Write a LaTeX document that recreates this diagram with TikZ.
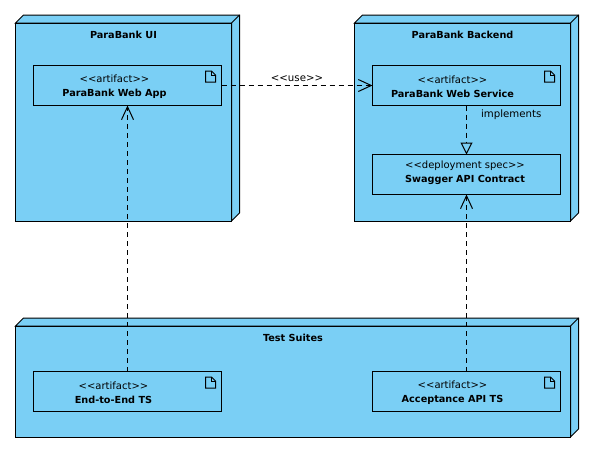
\documentclass[tikz,border=0pt]{standalone}
\usepackage{fontspec}
\setmainfont{DejaVu Sans}
\usetikzlibrary{arrows.meta}
\usetikzlibrary{positioning}
\definecolor{nodeblue}{RGB}{122,207,245}
\newcommand{\stereo}[1]{<{}<#1>{}>}
\newcommand{\boxname}[1]{{\fontsize{9.7}{14}\selectfont\bfseries #1}}
\tikzset{
  cube/.style={draw=black,fill=nodeblue,line width=1pt,inner sep=0pt,outer sep=0pt},
  artifact/.style={draw=black,fill=nodeblue,line width=1pt,inner sep=0pt,outer sep=0pt,
    minimum width=188pt,minimum height=40pt},
  boxtext/.style={align=center,inner sep=0pt,font=\fontsize{10}{14}\selectfont},
  cubetitle/.style={inner sep=0pt,font=\fontsize{9.7}{11}\selectfont\bfseries},
  edgelabel/.style={inner sep=0pt,font=\fontsize{10.2}{12}\selectfont},
  depends/.style={line width=1pt,dash pattern=on 5pt off 4pt,-{Straight Barb[length=13pt,width=12pt]}},
  realizes/.style={line width=1pt,dash pattern=on 5pt off 4pt,-{Triangle[open,length=12pt,width=12pt]}}
}
\begin{document}
\begin{tikzpicture}[x=1pt,y=-1pt]
  \def\d{8};  
  \useasboundingbox (0,0) rectangle (595,458);
  % nodes
  \node[cube,minimum width=216pt,minimum height=198pt] (ui) at (123.5,122) {};
  \node[cube,minimum width=216pt,minimum height=198pt] (backend) at (462.5,122) {};
  \node[cube,minimum width=555pt,minimum height=111pt] (tests) at (293,381.5) {};
  \foreach \n in {ui,backend,tests}{
    \draw[line width=1pt,fill=nodeblue] (\n.north west)--++(\d,-\d)-|([xshift=8pt,yshift=8pt]\n.south east)--(\n.south east)--(\n.north east)--cycle;
    \draw[line width=1pt] (\n.north east)--++(\d,-\d);
    \draw[line width=1pt] (\n.north west) rectangle (\n.south east);
  }
  \node[cubetitle,below=7.5pt of ui.north] (uititle) {ParaBank UI};
  \node[cubetitle,below=7.5pt of backend.north] (backendtitle) {ParaBank Backend};
  \node[cubetitle,below=7.5pt of tests.north] (teststitle) {Test Suites};
  % inner boxes
  \node[artifact] (webapp) at (127.5,85.5) {};
  \node[artifact] (webservice) at (466.5,85.5) {};
  \node[artifact] (contract) at (466.5,174.5) {};
  \node[artifact] (endtoend) at (127.5,391.5) {};
  \node[artifact] (acceptance) at (466.5,391.5) {};
  \node[boxtext] (webapptext) at ([xshift=-13pt,yshift=-1pt]webapp.center) {\stereo{artifact}\\\boxname{ParaBank Web App}};
  \node[boxtext] (webservicetext) at ([xshift=-14pt,yshift=-1pt]webservice.center) {\stereo{artifact}\\\boxname{ParaBank Web Service}};
  \node[boxtext] (contracttext) at ([yshift=1.5pt,xshift=-1.5pt]contract.center) {\stereo{deployment spec}\\\boxname{Swagger API Contract}};
  \node[boxtext] (endtoendtext) at ([xshift=-14pt,yshift=-1pt]endtoend.center) {\stereo{artifact}\\\boxname{End-to-End TS}};
  \node[boxtext] (acceptancetext) at ([xshift=-14pt,yshift=-1pt]acceptance.center) {\stereo{artifact}\\\boxname{Acceptance API TS}};
  % file icons
  \foreach \n in {webapp,webservice,endtoend,acceptance}{
    \draw[line width=1pt] ([xshift=-6pt,yshift=-9.5pt]\n.north east)--++(-4,-4)--++(-6,0)--++(0,11)--++(10,0)--cycle;
    \draw[line width=1pt] ([xshift=-6pt,yshift=-9.5pt]\n.north east)--++(-4,0)--++(0,-4);
  }
  % connectors
  \draw[depends] (webapp.east)--node[edgelabel,above=3pt]{\stereo{use}}(webservice.west);
  \draw[realizes] (webservice.south)--node[edgelabel,right=14pt,pos=0.18]{implements}(contract.north);
  \draw[depends] (endtoend.north)--(webapp.south);
  \draw[depends] (acceptance.north)--(contract.south);
\end{tikzpicture}
\end{document}
